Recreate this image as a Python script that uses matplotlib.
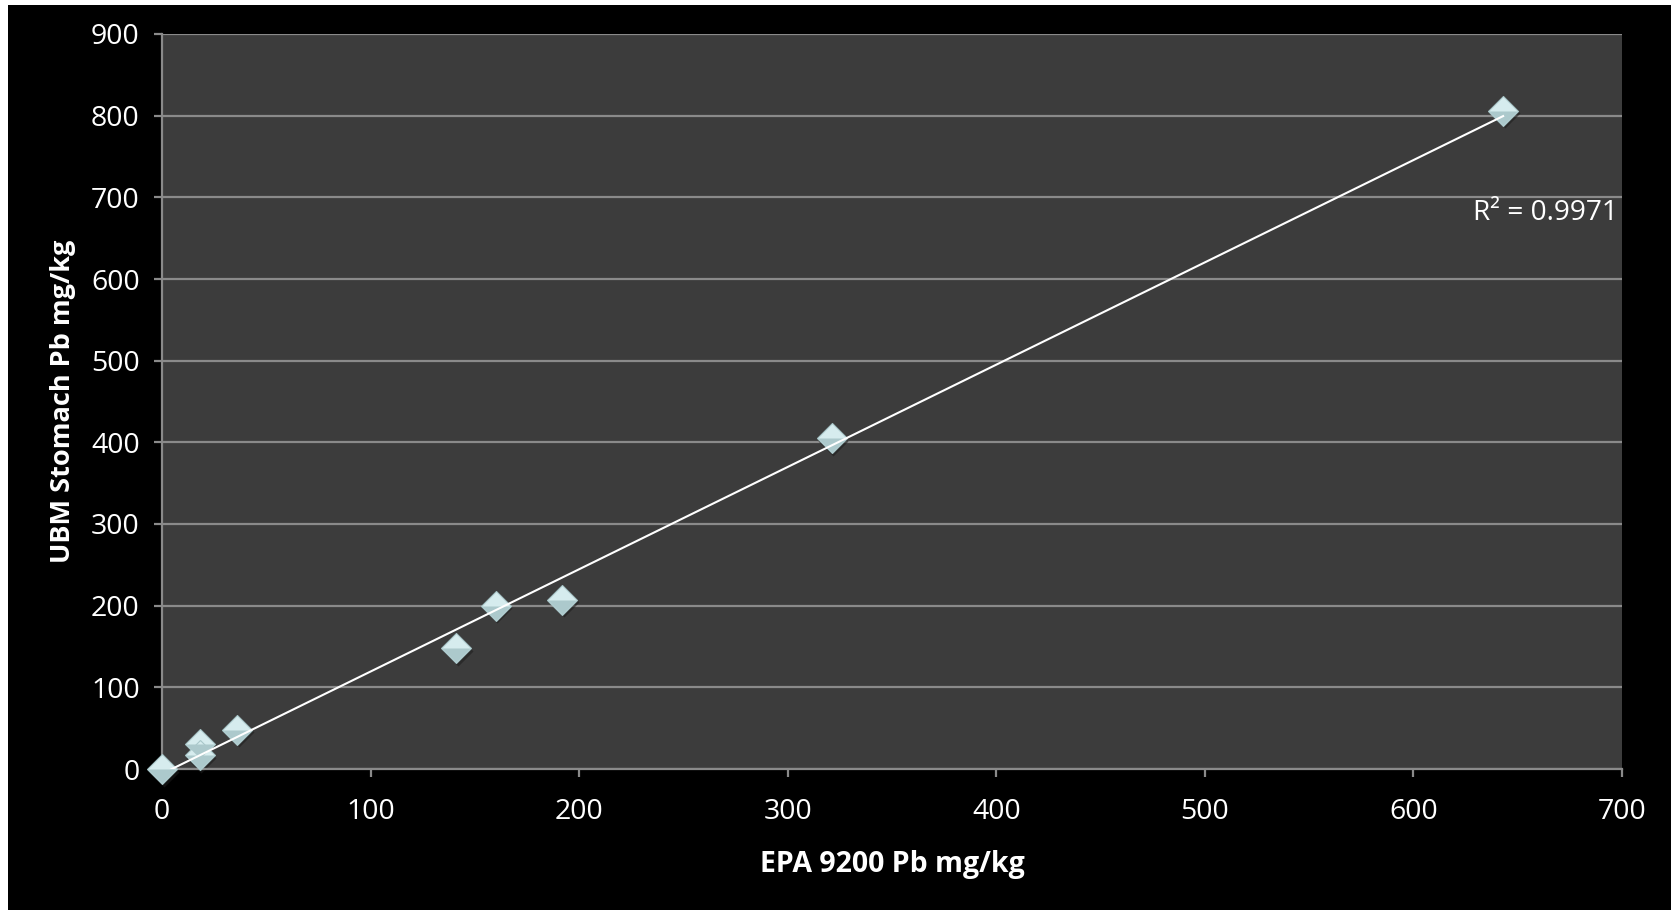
import numpy as np
import matplotlib.pyplot as plt
from matplotlib.patches import Rectangle
from matplotlib.transforms import offset_copy

# EPA 9200 vs UBM stomach Pb
epa_pb = [0, 18, 18, 36, 141, 160, 192, 321, 643]
ubm_pb = [0, 31, 17, 48, 148, 200, 207, 405, 806]
r2_label = "R² = 0.9971"

x_ticks = [0, 100, 200, 300, 400, 500, 600, 700]
y_ticks = [0, 100, 200, 300, 400, 500, 600, 700, 800, 900]

plt.rcParams["font.family"] = ["Open Sans", "DejaVu Sans"]

fig = plt.figure(figsize=(16.71, 9.10), dpi=100, facecolor="white")
# black panel with thin white strip at top and left
fig.patches.append(Rectangle((8 / 1671, 0), 1, 905 / 910, transform=fig.transFigure,
                             facecolor="black", edgecolor="none", zorder=-5))
ax = fig.add_axes([162 / 1671, 1 - 769 / 910, 1460 / 1671, 735 / 910])
ax.set_facecolor("#3c3c3c")

grid_col = "#8a8a8a"
ax.set_xlim(0, 700)
ax.set_ylim(0, 900)
ax.set_xticks(x_ticks)
ax.set_yticks(y_ticks)
ax.yaxis.grid(True, color=grid_col, linewidth=1.6)
ax.set_axisbelow(True)
for side in ["top", "right"]:
    ax.spines[side].set_visible(False)
for side in ["left", "bottom"]:
    ax.spines[side].set_color(grid_col)
    ax.spines[side].set_linewidth(1.6)
ax.tick_params(axis="both", colors=grid_col, labelcolor="white", labelsize=20.5,
               length=6, width=1.6, direction="out")
ax.tick_params(axis="y", pad=10)
ax.tick_params(axis="x", pad=15)

# diamond markers: soft shadow, light top half, darker bottom half
shadow = offset_copy(ax.transData, fig=fig, x=1.5, y=-2.5, units="dots")
ax.plot(epa_pb, ubm_pb, linestyle="none", marker="D", markersize=15,
        markerfacecolor="#1e1e1e", markeredgecolor="none", alpha=0.6,
        transform=shadow, zorder=2, clip_on=False)
ax.plot(epa_pb, ubm_pb, linestyle="none", marker="D", markersize=15,
        markerfacecolor="#d6ecee", markeredgecolor="#a9c7ca", markeredgewidth=0.8,
        zorder=3, clip_on=False)
lower_half = [(-1, 0), (1, 0), (0, -1), (-1, 0)]
ax.plot(epa_pb, ubm_pb, linestyle="none", marker=lower_half, markersize=20.7,
        markerfacecolor="#acc9cc", markeredgecolor="none", zorder=3.1, clip_on=False)

# linear trendline
coef = np.polyfit(epa_pb, ubm_pb, 1)
xs = np.array([min(epa_pb), max(epa_pb)])
ax.plot(xs, np.polyval(coef, xs), color="white", linewidth=1.5, zorder=4)

ax.text(0.997, 0.757, r2_label, transform=ax.transAxes, ha="right", va="center",
        color="white", fontsize=20.2)

ax.set_xlabel("EPA 9200 Pb mg/kg", color="white", fontsize=20.5, fontweight="bold",
              labelpad=17)
ax.set_ylabel("UBM Stomach Pb mg/kg", color="white", fontsize=19.5, fontweight="bold",
              labelpad=11)

fig.savefig("out.png", dpi=100, facecolor=fig.get_facecolor())
